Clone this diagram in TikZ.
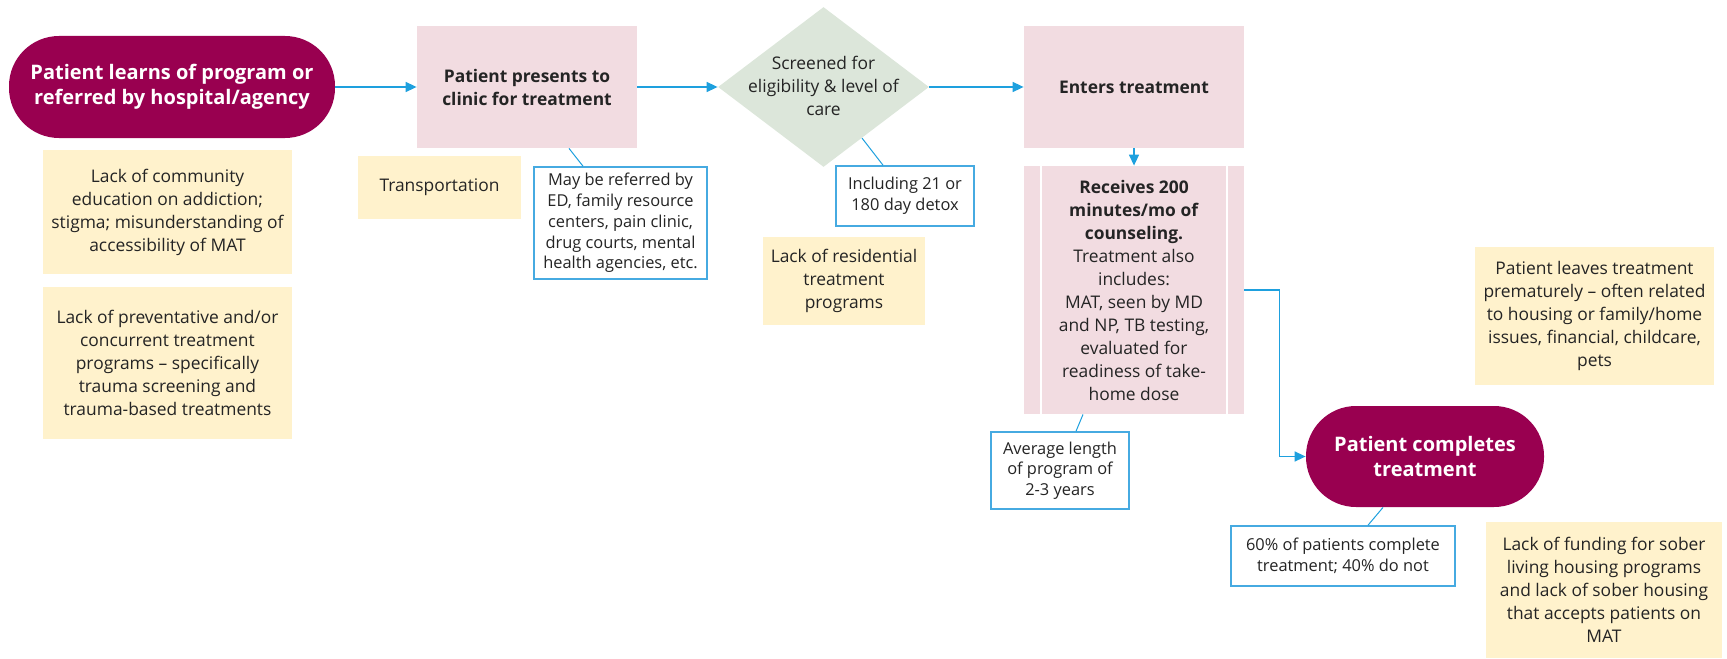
\documentclass[tikz,border=0pt]{standalone}
\usepackage{fontspec}
\setmainfont{Open Sans}
\usetikzlibrary{shapes.geometric,arrows.meta}

\definecolor{plum}{RGB}{153,0,80}
\definecolor{pinkfill}{RGB}{242,220,225}
\definecolor{sage}{RGB}{220,230,218}
\definecolor{cream}{RGB}{255,242,204}
\definecolor{flowblue}{RGB}{30,160,222}
\definecolor{calloutblue}{RGB}{70,170,225}
\definecolor{ink}{RGB}{36,36,36}

\begin{document}
\begin{tikzpicture}[x=0.5pt,y=-0.5pt,
  base/.style={align=center, inner sep=0pt, text=ink,
    font=\fontsize{8.7}{11.5}\selectfont},
  boldtext/.style={font=\fontsize{8.7}{11.5}\selectfont\bfseries},
  terminal/.style={base, fill=plum, text=white, rounded corners=25pt,
    font=\fontsize{10}{12.5}\selectfont\bfseries},
  process/.style={base, fill=pinkfill},
  decision/.style={diamond, fill=sage, inner sep=0pt},
  issue/.style={base, fill=cream},
  note/.style={base, draw=calloutblue, line width=0.8pt, fill=white,
    font=\fontsize{8.2}{10.35}\selectfont},
  flow/.style={draw=flowblue, line width=0.75pt,
    -{Triangle[length=5.5pt,width=5pt]}},
  leader/.style={draw=flowblue, line width=0.5pt},
]
\useasboundingbox (0,0) rectangle (1727,658);

% main flow
\node[terminal, minimum width=163pt, minimum height=51pt] (start) at (172,87)
  {Patient learns of program or\\referred by hospital/agency};
\node[process, boldtext, minimum width=110pt, minimum height=61pt] (present) at (527,87)
  {Patient presents to\\clinic for treatment};
\node[decision, minimum width=105.5pt, minimum height=80pt] (screen) at (823.5,87) {};
\node[base] (screentext) at (823.5,86) {Screened for\\eligibility \& level of\\care};
\node[process, boldtext, minimum width=110pt, minimum height=61pt] (enters) at (1134,87)
  {Enters treatment};
\node[process, minimum width=110pt, minimum height=124pt] (receives) at (1134,290)
  {\textbf{Receives 200}\\\textbf{minutes/mo of}\\\textbf{counseling.}\\Treatment also\\includes:\\MAT, seen by MD\\and NP, TB testing,\\evaluated for\\readiness of take-\\home dose};
\draw[white, line width=1pt] ([xshift=8.5pt]receives.north west) -- ([xshift=8.5pt]receives.south west);
\draw[white, line width=1pt] ([xshift=-8.5pt]receives.north east) -- ([xshift=-8.5pt]receives.south east);
\node[terminal, minimum width=119pt, minimum height=50.5pt] (complete) at (1425,456.5)
  {Patient completes\\treatment};

% barriers
\node[issue, minimum width=124.5pt, minimum height=62pt] (community) at (167.5,212)
  {Lack of community\\education on addiction;\\stigma; misunderstanding of\\accessibility of MAT};
\node[issue, minimum width=124.5pt, minimum height=76pt] (prevent) at (167.5,363)
  {Lack of preventative and/or\\concurrent treatment\\programs – specifically\\trauma screening and\\trauma-based treatments};
\node[issue, minimum width=81.5pt, minimum height=31.5pt] (transport) at (439.5,187.5)
  {Transportation};
\node[issue, minimum width=81pt, minimum height=44pt] (residential) at (844,281)
  {Lack of residential\\treatment\\programs};
\node[issue, minimum width=119.5pt, minimum height=69pt] (leaves) at (1594.5,316)
  {Patient leaves treatment\\prematurely – often related\\to housing or family/home\\issues, financial, childcare,\\pets};
\node[issue, minimum width=118pt, minimum height=68pt] (funding) at (1604,590)
  {Lack of funding for sober\\living housing programs\\and lack of sober housing\\that accepts patients on\\MAT};

% callout notes
\node[note, minimum width=86.5pt, minimum height=56pt] (referred) at (620.5,223)
  {May be referred by\\ED, family resource\\centers, pain clinic,\\drug courts, mental\\health agencies, etc.};
\node[note, minimum width=69pt, minimum height=30pt] (detox) at (905,196)
  {Including 21 or\\180 day detox};
\node[note, minimum width=69pt, minimum height=38.5pt] (length) at (1060,470.5)
  {Average length\\of program of\\2-3 years};
\node[note, minimum width=112pt, minimum height=30pt] (rate) at (1343,556)
  {60\% of patients complete\\treatment; 40\% do not};

% connectors
\draw[flow] (start.east) -- (present.west);
\draw[flow] (present.east) -- (screen.west);
\draw[flow] (screen.east) -- (enters.west);
\draw[flow] (enters.south) -- (receives.north);
\draw[flow] (receives.east) -- ++(35,0) |- (complete.west);

% callout leaders
\draw[leader] ([xshift=21pt]present.south) -- ([xshift=-18.75pt]referred.north);
\draw[leader] (screen.-53) -- ([xshift=-11pt]detox.north);
\draw[leader] ([xshift=-25.5pt]receives.south) -- ([xshift=8pt]length.north);
\draw[leader] ([xshift=-21pt]complete.south) -- ([xshift=12.5pt]rate.north);
\end{tikzpicture}
\end{document}
